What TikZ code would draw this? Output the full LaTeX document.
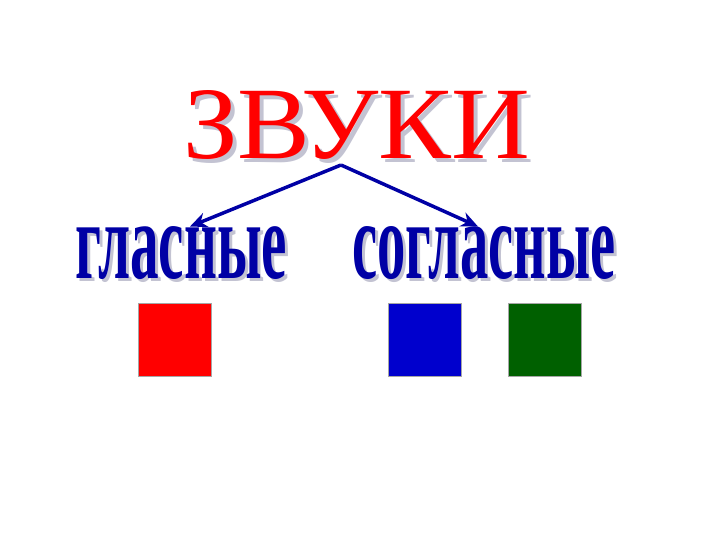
\documentclass[tikz,border=0pt]{standalone}
\usepackage{fontspec}
\setmainfont{Liberation Serif}
\usetikzlibrary{arrows.meta}
\definecolor{wordblue}{RGB}{0,0,165}
\definecolor{sqblue}{RGB}{0,0,205}
\definecolor{sqgreen}{RGB}{0,96,0}
\definecolor{shadowgray}{RGB}{195,195,210}
\tikzset{
  word/.style={inner sep=0pt, anchor=south west},
  shadow/.style={word, text=shadowgray},
  branch/.style={-{Stealth[length=17pt, width=15pt]}, line width=3.5pt, wordblue},
  sq/.style={draw=gray!70, minimum size=73pt, inner sep=0pt, anchor=north west},
}
\begin{document}
\begin{tikzpicture}[x=1pt, y=-1pt]
    \useasboundingbox (0,0) rectangle (720,540);
    \node[shadow] at (187,164) {\resizebox{347pt}{68pt}{ЗВУКИ}};
    \node[word, red] (title) at (183,160) {\resizebox{347pt}{68pt}{ЗВУКИ}};
    \node[shadow] at (78,283) {\resizebox{212pt}{52pt}{\textbf{гласные}}};
    \node[word, wordblue] (vow) at (75,280) {\resizebox{212pt}{52pt}{\textbf{гласные}}};
    \node[shadow] at (355,283) {\resizebox{263pt}{52pt}{\textbf{согласные}}};
    \node[word, wordblue] (cons) at (352,280) {\resizebox{263pt}{52pt}{\textbf{согласные}}};
    \coordinate (apex) at (341,165);
    \draw[branch] (apex) -- (vow.north -| 190,0);
    \draw[branch] (apex) -- (cons.north -| 478,0);
    \node[sq, fill=red] (r) at (138,303) {};
    \node[sq, fill=sqblue] (b) at (388,303) {};
    \node[sq, fill=sqgreen] (g) at (508,303) {};
    \end{tikzpicture}
\end{document}
